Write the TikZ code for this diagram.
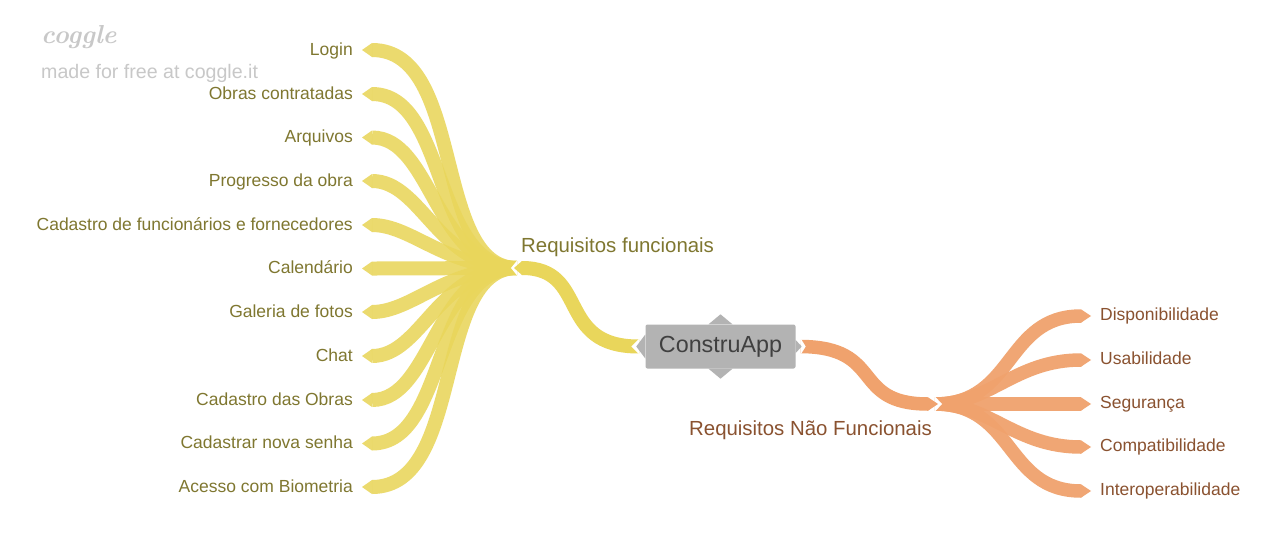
\documentclass[tikz,border=0pt]{standalone}
\usepackage{fontspec}
\setmainfont{Liberation Sans}
\usetikzlibrary{calc}
\definecolor{ybr}{HTML}{E9D65B}
\definecolor{ytx}{HTML}{7F7730}
\definecolor{obr}{HTML}{F0A26D}
\definecolor{otx}{HTML}{8A5230}
\definecolor{boxc}{HTML}{B3B3B3}
\definecolor{wm}{HTML}{C8C8C8}
\tikzset{
 x=1pt,y=-1pt,
 leafl/.style={anchor=base east,text=ytx,font=\fontsize{17.5}{20}\selectfont,inner sep=0pt},
 leafr/.style={anchor=base west,text=otx,font=\fontsize{17.5}{20}\selectfont,inner sep=0pt},
 midl/.style={anchor=base west,inner sep=0pt,font=\fontsize{20.4}{24}\selectfont},
 ybranch/.style={draw=ybr,line width=14pt,draw opacity=.88},
 ytip/.style={fill=ybr,fill opacity=.88},
 obranch/.style={draw=obr,line width=13.5pt,draw opacity=.95},
 otip/.style={fill=obr,fill opacity=.95},
}
\begin{document}
\begin{tikzpicture}
\useasboundingbox (0,0) rectangle (1280,549);
\fill[white] (0,0) rectangle (1280,549);
\coordinate (yroot) at (517,268);
\coordinate (oroot) at (935,404);
% yellow branches and their labels
\foreach \n/\t/\ly/\ca/\cb in {a/Login/50/94/-85,b/Obras contratadas/94/76/-85,c/Arquivos/137.5/60/-82,d/Progresso da obra/181/50/-79,e/Cadastro de funcionários e fornecedores/225/40/-72,f/Calendário/268.5/30/-30,g/Galeria de fotos/312/40/-72,h/Chat/356/50/-79,i/Cadastro das Obras/400/60/-82,j/Cadastrar nova senha/443.5/76/-85,k/Acesso com Biometria/487/94/-85}{
 \node[leafl] (\n) at (353,\ly+5) {\t};
 \coordinate (\n t) at (372,\ly);
 \path[ybranch] (yroot) .. controls ($(yroot)+(\cb,0)$) and ($(\n t)+(\ca,0)$) .. (\n t);
 \fill[ytip] ($(\n t)+(0,-7)$) -- ($(\n t)+(-10,0)$) -- ($(\n t)+(0,7)$) -- cycle;
}
% orange branches and their labels
\foreach \n/\t/\ly/\ca/\cb in {p/Disponibilidade/316/-76/80,q/Usabilidade/360/-66/55,r/Segurança/404/-50/50,s/Compatibilidade/447/-66/55,u/Interoperabilidade/491/-76/80}{
 \node[leafr] (\n) at (1100,\ly+4.5) {\t};
 \coordinate (\n t) at (1081,\ly);
 \path[obranch] (oroot) .. controls ($(oroot)+(\cb,0)$) and ($(\n t)+(\ca,0)$) .. (\n t);
 \fill[otip] ($(\n t)+(0,-6.75)$) -- ($(\n t)+(10,0)$) -- ($(\n t)+(0,6.75)$) -- cycle;
}
% notches at the roots of the fans
\fill[white] ($(yroot)+(0.5,-8)$) -- ($(yroot)+(-6,0)$) -- ($(yroot)+(0.5,8)$) -- cycle;
\fill[white] ($(oroot)+(-0.5,-8)$) -- ($(oroot)+(7,0)$) -- ($(oroot)+(-0.5,8)$) -- cycle;
% central node
\node[fill=boxc,rounded corners=2pt,minimum width=150pt,minimum height=44pt,inner sep=0pt,text=black!75,font=\fontsize{23.3}{28}\selectfont] (root) at (720.5,346.5) {\raisebox{-1.5pt}{ConstruApp}};
% main branches
\node[midl,text=ytx] (rf) at (521,252) {Requisitos funcionais};
\node[midl,text=otx] (rn) at (689,435) {Requisitos Não Funcionais};
\coordinate (yfan) at (522,268);
\coordinate (ofan) at (928,404);
\path[ybranch,draw opacity=1] (yfan) .. controls (590,268) and (555,347) .. ($(root.west)+(-6,0)$);
\fill[ybr] ($(yfan)+(0,-7)$) -- ($(yfan)+(-8,0)$) -- ($(yfan)+(0,7)$) -- cycle;
\fill[white] ($(root.west)+(-6,-8)$) -- ($(root.west)+(-14,0)$) -- ($(root.west)+(-6,8)$) -- cycle;
\path[obranch,draw opacity=1] ($(root.east)+(5,0)$) .. controls (885,347) and (850,404) .. (ofan);
\fill[obr] ($(ofan)+(0,-6.75)$) -- ($(ofan)+(10,0)$) -- ($(ofan)+(0,6.75)$) -- cycle;
\fill[white] ($(root.east)+(5,-8)$) -- ($(root.east)+(10,0)$) -- ($(root.east)+(5,8)$) -- cycle;
% points of the central node
\fill[boxc] (root.west) ++(0,-12) -- ++(-9,12) -- ++(9,12) -- cycle;
\fill[boxc] (root.north) ++(-12,0) -- ++(12,-10) -- ++(12,10) -- cycle;
\fill[boxc] (root.south) ++(-12,0) -- ++(12,10) -- ++(12,-10) -- cycle;
\fill[boxc] (root.east) ++(0,-6.5) -- ++(6,6.5) -- ++(-6,6.5) -- cycle;
% watermark
\node[anchor=west,inner sep=0pt,text=wm,font=\fontsize{19.6}{22}\selectfont] (wm1) at (41,73) {made for free at coggle.it};
\node[anchor=west,inner sep=0pt,text=wm,font=\fontspec{Latin Modern Roman}\fontsize{26}{30}\bfseries\itshape\selectfont] (wm2) at (41,37) {coggle};
\end{tikzpicture}
\end{document}
